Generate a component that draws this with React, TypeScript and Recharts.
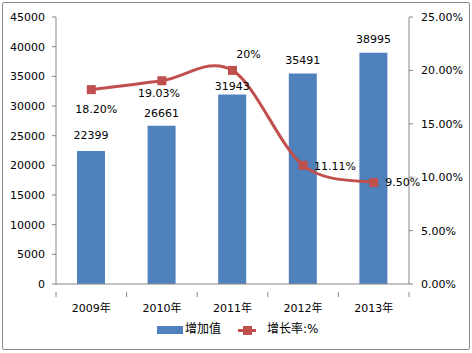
import React from 'react';
import { ComposedChart, Bar, Line, XAxis, YAxis, LabelList } from 'recharts';

const years = ['2009年', '2010年', '2011年', '2012年', '2013年'];
const addedValue = [22399, 26661, 31943, 35491, 38995];
const growthRate = [0.182, 0.1903, 0.2, 0.1111, 0.095];
const rateLabels = ['18.20%', '19.03%', '20%', '11.11%', '9.50%'];
const leftTicks = [0, 5000, 10000, 15000, 20000, 25000, 30000, 35000, 40000, 45000];
const rightTicks = [0, 0.05, 0.1, 0.15, 0.2, 0.25];

const data = years.map((year, i) => ({
  year,
  value: addedValue[i],
  rate: growthRate[i],
  rateLabel: rateLabels[i],
}));

const BAR_COLOR = '#4F81BD';
const LINE_COLOR = '#C0504D';
const AXIS_COLOR = '#868686';
const FONT = '"DejaVu Sans", "Noto Sans CJK SC", sans-serif';

const W = 472;
const H = 353;
const LEFT_W = 56;
const RIGHT_W = 63;
const BAND = (W - LEFT_W - RIGHT_W) / years.length;

// label placement tweaks (Excel labels were nudged by hand)
const rateLabelShift = [[5, 20], [-3, 13], [16, -16], [32, 1], [29, 0]];
const barLabelShift = [16, 12, 8, 13, 13];

// Excel-style smoothed line (Catmull-Rom through the points)
const excelSmooth = (context: any) => {
  let pts: number[][] = [];
  return {
    areaStart() {},
    areaEnd() {},
    lineStart() {
      pts = [];
    },
    point(x: number, y: number) {
      pts.push([+x, +y]);
    },
    lineEnd() {
      if (!pts.length) return;
      context.moveTo(pts[0][0], pts[0][1]);
      for (let i = 0; i < pts.length - 1; i++) {
        const p0 = pts[i - 1] || pts[i];
        const p1 = pts[i];
        const p2 = pts[i + 1];
        const p3 = pts[i + 2] || pts[i + 1];
        context.bezierCurveTo(
          p1[0] + (p2[0] - p0[0]) / 6,
          p1[1] + (p2[1] - p0[1]) / 6,
          p2[0] - (p3[0] - p1[0]) / 6,
          p2[1] - (p3[1] - p1[1]) / 6,
          p2[0],
          p2[1]
        );
      }
    },
  };
};

const XTick = (props: any) => {
  const { x, y, payload, index } = props;
  return (
    <g>
      <line x1={x - BAND / 2} y1={y} x2={x - BAND / 2} y2={y + 5} stroke={AXIS_COLOR} />
      {index === years.length - 1 && (
        <line x1={x + BAND / 2} y1={y} x2={x + BAND / 2} y2={y + 5} stroke={AXIS_COLOR} />
      )}
      <text x={x} y={y + 16} textAnchor="middle" dominantBaseline="central" fontSize={11} fontFamily={FONT} fill="#000">
        {payload.value}
      </text>
    </g>
  );
};

const SquareDot = (props: any) => {
  const { cx, cy } = props;
  if (cx == null || cy == null) return null;
  return <rect x={cx - 4.5} y={cy - 4.5} width={9} height={9} fill={LINE_COLOR} />;
};

const RateLabel = (props: any) => {
  const { x, y, value, index } = props;
  const [dx, dy] = rateLabelShift[index] || [0, 0];
  return (
    <text x={x + dx} y={y + dy} textAnchor="middle" dominantBaseline="central" fontSize={11} fontFamily={FONT} fill="#000">
      {value}
    </text>
  );
};

const BarLabel = (props: any) => {
  const { x, y, width, value, index } = props;
  return (
    <text x={x + width / 2} y={y - barLabelShift[index]} textAnchor="middle" dominantBaseline="central" fontSize={11} fontFamily={FONT} fill="#000">
      {value}
    </text>
  );
};

export default function App() {
  return (
    <div style={{ position: 'absolute', left: 0, top: 0, width: W, height: H, background: '#fff', fontFamily: FONT }}>
      <div
        style={{
          position: 'absolute',
          left: 2,
          top: 2,
          width: 466,
          height: 346,
          border: '1px solid #8c8c8c',
          borderRadius: 2,
        }}
      />
      <ComposedChart width={W} height={H} data={data} margin={{ top: 17, right: 0, bottom: 0, left: 0 }}>
        <XAxis
          dataKey="year"
          height={69}
          stroke={AXIS_COLOR}
          tickLine={false}
          tick={<XTick />}
          interval={0}
        />
        <YAxis
          yAxisId="left"
          width={LEFT_W}
          domain={[0, 45000]}
          ticks={leftTicks}
          interval={0}
          stroke={AXIS_COLOR}
          tickSize={4}
          tickMargin={7}
          tick={{ fill: '#000', fontSize: 11, fontFamily: FONT }}
        />
        <YAxis
          yAxisId="right"
          orientation="right"
          width={RIGHT_W}
          domain={[0, 0.25]}
          ticks={rightTicks}
          interval={0}
          stroke={AXIS_COLOR}
          tickSize={4}
          tickMargin={8}
          tickFormatter={(v: number) => `${(v * 100).toFixed(2)}%`}
          tick={{ fill: '#000', fontSize: 11, fontFamily: FONT, textAnchor: 'start' }}
        />
        <Bar yAxisId="left" dataKey="value" fill={BAR_COLOR} barSize={28} isAnimationActive={false}>
          <LabelList dataKey="value" content={<BarLabel />} />
        </Bar>
        <Line
          yAxisId="right"
          type={excelSmooth as any}
          dataKey="rate"
          stroke={LINE_COLOR}
          strokeWidth={3}
          dot={<SquareDot />}
          activeDot={false}
          isAnimationActive={false}
        >
          <LabelList dataKey="rateLabel" content={<RateLabel />} />
        </Line>
      </ComposedChart>
      <div style={{ position: 'absolute', left: 157, top: 326, width: 26, height: 8, background: BAR_COLOR }} />
      <div style={{ position: 'absolute', left: 185, top: 320, height: 18, lineHeight: '18px', fontSize: 12, color: '#000' }}>
        增加值
      </div>
      <div style={{ position: 'absolute', left: 238, top: 329, width: 18, height: 3, background: LINE_COLOR }} />
      <div style={{ position: 'absolute', left: 243, top: 326, width: 9, height: 9, background: LINE_COLOR }} />
      <div style={{ position: 'absolute', left: 267, top: 320, height: 18, lineHeight: '18px', fontSize: 12, color: '#000' }}>
        增长率:%
      </div>
    </div>
  );
}
